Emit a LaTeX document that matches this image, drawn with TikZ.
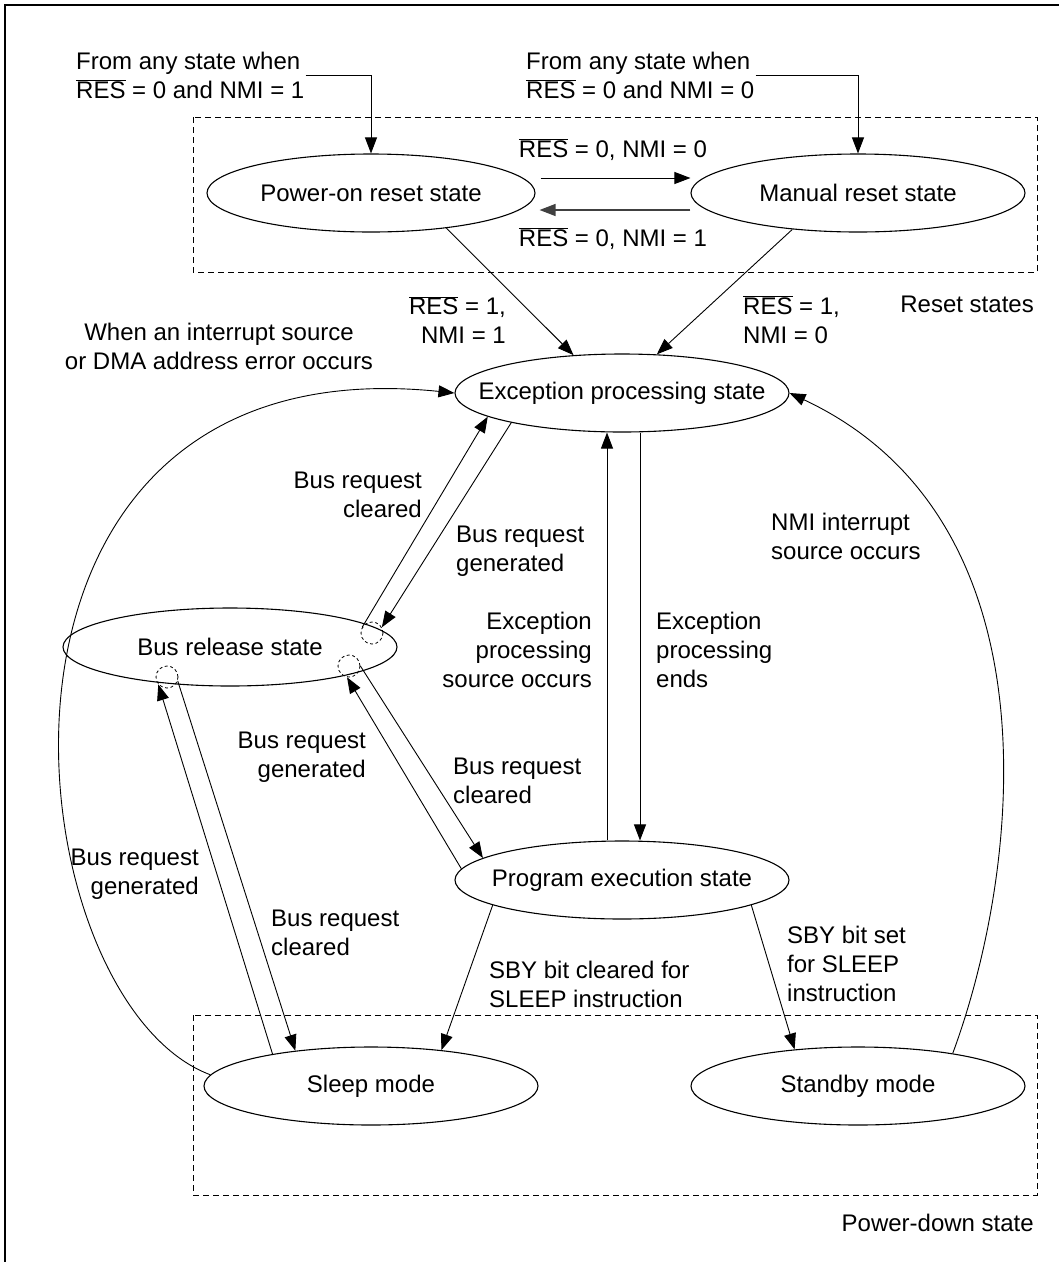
\documentclass[tikz,border=0pt]{standalone}
\usepackage{fontspec}
\setmainfont{Liberation Sans}
\usetikzlibrary{arrows.meta,shapes.geometric,positioning}
\newcommand{\resb}{$\overline{\mbox{RES}}$}
\newcommand{\sn}[1]{\makebox[0pt]{#1}}

\begin{document}
\begin{tikzpicture}[x=1pt, y=-1pt,
	every node/.style={font=\fontsize{24}{29}\selectfont},
	stnode/.style={ellipse, draw, line width=1.1pt, minimum width=334pt, minimum height=78pt, inner sep=0pt},
	lbl/.style={inner sep=1pt},
	grp/.style={line width=0.9pt, dash pattern=on 6pt off 4pt},
	loopc/.style={circle, draw, line width=0.8pt, dash pattern=on 3pt off 2.5pt, minimum size=22pt, inner sep=0pt},
	tr/.style={-{Triangle[length=16pt,width=12pt]}, line width=0.9pt}]
		
		\useasboundingbox (0,0) rectangle (1059,1262);
		\draw[line width=1.2pt] (5,1262) -- (5,5) -- (1059,5);
		
		% groups
		\draw[grp] (193,117) rectangle (1037,272);
		\draw[grp] (193,1015) rectangle (1037,1195);
		\node[lbl, anchor=east] (rsttxt) at (1035,304) {Reset states};
		\node[lbl, anchor=east] (pdtxt) at (1035,1223) {Power-down state};
		
		% states
		\node[stnode, minimum width=328pt] (poreset) at (371,193) {\sn{Power-on reset state}};
		\node[stnode] (mreset) at (858,193) {\sn{Manual reset state}};
		\node[stnode] (exc) at (622,393) {\sn{Exception processing state}};
		\node[stnode] (busrel) at (230,647) {\sn{Bus release state}};
		\node[stnode] (prog) at (622,880) {\sn{Program execution state}};
		\node[stnode] (sleep) at (371,1086) {\sn{Sleep mode}};
		\node[stnode] (standby) at (858,1086) {\sn{Standby mode}};
		
		\node[loopc] (lpA) at (372,633) {};
		\node[loopc] (lpB) at (349,666) {};
		\node[loopc] (lpC) at (167,677) {};
		
		% reset entries
		\node[lbl, anchor=west, align=left] (fromA) at (75,75) {From any state when\\\resb{} = 0 and NMI = 1};
		\node[lbl, anchor=west, align=left] (fromB) at (525,75) {From any state when\\\resb{} = 0 and NMI = 0};
		\draw[tr] (fromA.east) -| (poreset.north);
		\draw[tr] (fromB.east) -| (mreset.north);
		
		\draw[tr, shorten <=5pt] ([yshift=15pt]poreset.east) -- node[above=14pt]{\resb{} = 0, NMI = 0} ([yshift=15pt]mreset.west);
		\draw[tr, line width=1.3pt, black!75, shorten >=4pt] ([yshift=-17pt]mreset.west) -- node[below=14pt, black]{\resb{} = 0, NMI = 1} ([yshift=-17pt]poreset.east);
		
		\draw[tr] (poreset.-25) -- (exc.142);
		\draw[tr] (mreset.209) -- (exc.48);
		\node[lbl, anchor=east, align=right] (rs1) at (507,320) {\resb{} = 1,\\NMI = 1};
		\node[lbl, anchor=west, align=left] (rs0) at (742,320) {\resb{} = 1,\\NMI = 0};
		
		% interrupts
		\draw[tr] (sleep.176) .. controls +(-201,-75) and +(-515,-53) .. (exc.west);
		\node[lbl, align=center] (irqtxt) at (219,346) {When an interrupt source\\or DMA address error occurs};
		\draw[tr] (standby.19) .. controls +(68,-184) and +(271,127) .. (exc.east);
		\node[lbl, anchor=west, align=left] (nmitxt) at (770,536) {NMI interrupt\\source occurs};
		
		% bus release
		\draw[tr] (lpA.150) -- (exc.190);
		\draw[tr] (exc.195) -- (lpA.30);
		\node[lbl, anchor=east, align=right] (bc1) at (423,495) {Bus request\\cleared};
		\node[lbl, anchor=west, align=left] (bg1) at (455,551) {Bus request\\generated};
		
		\draw[tr] (lpB.east) -- (prog.171);
		\draw[tr] (prog.176) -- (lpB.260);
		\node[lbl, anchor=east, align=right] (bg2) at (367,757) {Bus request\\generated};
		\node[lbl, anchor=west, align=left] (bc2) at (452,781) {Bus request\\cleared};
		
		\draw[tr] (sleep.162) -- (lpC.220);
		\draw[tr] (lpC.-20) -- (sleep.155);
		\node[lbl, anchor=east, align=right] (bg3) at (200,874) {Bus request\\generated};
		\node[lbl, anchor=west, align=left] (bc3) at (270,933) {Bus request\\cleared};
		
		% exception processing
		\draw[tr] ([xshift=-15pt]prog.north) -- ([xshift=-15pt]exc.south);
		\draw[tr] ([xshift=18pt]exc.south) -- ([xshift=18pt]prog.north);
		\node[lbl, anchor=east, align=right] (exsrc) at (593,650) {Exception\\processing\\source occurs};
		\node[lbl, anchor=west, align=left] (exend) at (655,650) {Exception\\processing\\ends};
		
		% power-down
		\draw[tr] (prog.191) -- (sleep.27);
		\draw[tr] (prog.-11) -- (standby.150);
		\node[lbl, anchor=west, align=left] (sbyclr) at (488,984) {SBY bit cleared for\\SLEEP instruction};
		\node[lbl, anchor=west, align=left] (sbyset) at (786,964) {SBY bit set\\for SLEEP\\instruction};
		
	\end{tikzpicture}
\end{document}
